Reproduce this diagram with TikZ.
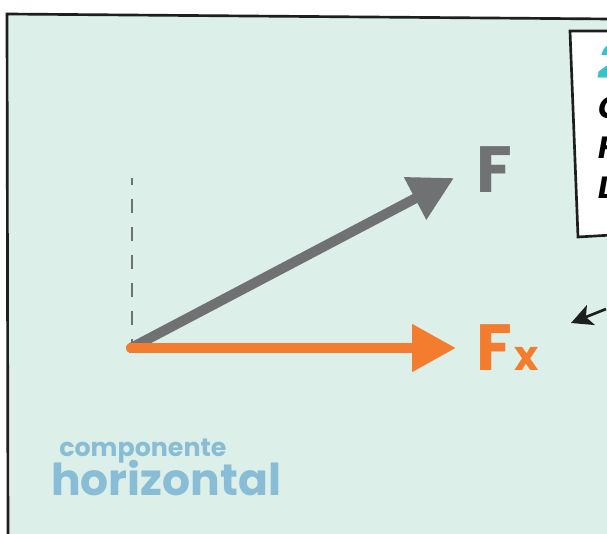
\documentclass[tikz,border=0pt]{standalone}
\usepackage{fontspec}
\setmainfont{Poppins}
\usetikzlibrary{arrows.meta}
\definecolor{fondo}{RGB}{220,239,232}
\definecolor{gris}{RGB}{111,113,114}
\definecolor{naranja}{RGB}{244,124,47}
\definecolor{azul}{RGB}{137,189,214}
\definecolor{turquesa}{RGB}{61,191,201}
\definecolor{tinta}{RGB}{30,30,30}
\begin{document}
\begin{tikzpicture}[x=0.75pt, y=-0.75pt,
        vector/.style={line width=7.5pt, line cap=round, -{Triangle[length=33pt, width=34pt]}},
        etiqueta/.style={inner sep=0pt, font=\bfseries\fontsize{49}{49}\selectfont},
        letra/.style={inner sep=0pt, anchor=base west, font=\bfseries\itshape\fontsize{23}{23}\selectfont}]
        \useasboundingbox (0,0) rectangle (607,534);
        \clip (0,0) rectangle (607,534);

        % Fondo y marco de la viñeta
        \fill[white] (0,0) rectangle (607,534);
        \fill[fondo] (7,14) -- (607,19) -- (607,534) -- (8,534) -- cycle;
        \draw[tinta, line width=2pt] (8,540) -- (7,14) -- (610,19);

        % Recuadro de texto (cortado a la derecha)
        \filldraw[fill=white, draw=tinta, line width=2pt] (612,31) -- (570,31) -- (578,237) -- (612,235);
        \node[letra, text=turquesa, font=\bfseries\itshape\fontsize{36}{36}\selectfont] (num) at (598,79) {2};
        \node[letra] (l1) at (598,119) {C};
        \node[letra] (l2) at (598,159) {F};
        \node[letra] (l3) at (598,199) {L};

        % Origen, eje vertical discontinuo y puntas
        \coordinate (O) at (131,348);
        \coordinate (eje) at (132,178);
        \coordinate (pF) at (454,178);
        \coordinate (pFx) at (456,348);
        \draw[gris, line width=1.6pt, dash pattern=on 10pt off 11pt, dash phase=5pt] (eje) -- (132,342);

        % Vectores F y Fx
        \draw[vector, gris] (O) -- (pF);
        \draw[vector, naranja] (O) -- (pFx);
        \node[etiqueta, text=gris, anchor=base west] (F) at (476,193) {F};
        \node[etiqueta, text=naranja, anchor=base west] (Fx) at (476,371) {F\kern1.5pt{\fontsize{31}{31}\selectfont x}};

        % Flecha pequeña hacia la izquierda
        \coordinate (cola) at (606,309);
        \coordinate (punta) at (571,323);
        \draw[tinta, line width=2pt, -{Stealth[length=16pt, width=16pt, inset=4pt]}] (cola) -- (punta);

        % Etiqueta de la componente
        \node[inner sep=0pt, anchor=base west, text=azul, font=\bfseries\fontsize{19}{19}\selectfont] (comp) at (59,457) {componente};
        \node[inner sep=0pt, anchor=base west, text=azul, font=\bfseries\fontsize{33}{33}\selectfont] (hor) at (51,495) {horizontal};
    \end{tikzpicture}
\end{document}
